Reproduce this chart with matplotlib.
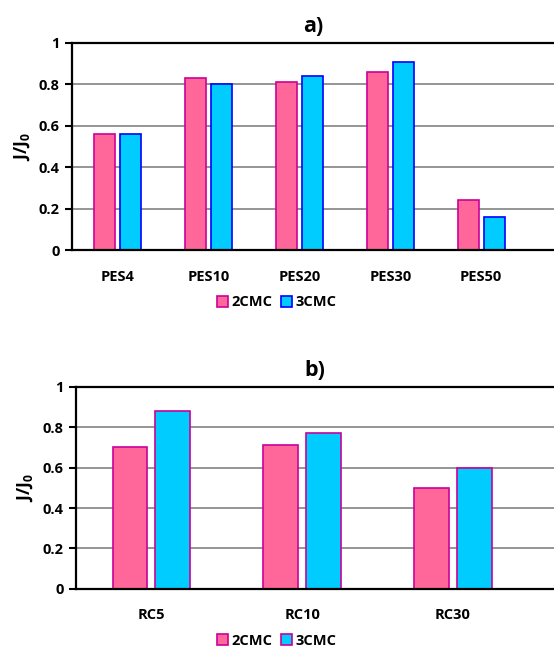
import numpy as np
import matplotlib
matplotlib.use("Agg")
import matplotlib.pyplot as plt

# panel a data
pes_labels = ["PES4", "PES10", "PES20", "PES30", "PES50"]
pes_2cmc = [0.56, 0.83, 0.81, 0.86, 0.24]
pes_3cmc = [0.56, 0.80, 0.84, 0.91, 0.16]

# panel b data
rc_labels = ["RC5", "RC10", "RC30"]
rc_2cmc = [0.70, 0.71, 0.50]
rc_3cmc = [0.88, 0.77, 0.60]

yticks = [0, 0.2, 0.4, 0.6, 0.8, 1]
ytick_labels = ["0", "0.2", "0.4", "0.6", "0.8", "1"]

plt.rcParams['font.family'] = ['Open Sans', 'DejaVu Sans']
plt.rcParams['font.weight'] = 'bold'
plt.rcParams['mathtext.fontset'] = 'custom'
plt.rcParams['mathtext.bf'] = 'Open Sans:bold'
plt.rcParams['mathtext.rm'] = 'Open Sans:bold'

pink = "#FF6699"
cyan = "#00CCFF"
magenta = "#CC0099"
blue = "#0000FF"

fig = plt.figure(figsize=(5.54, 6.5), dpi=100)


def draw_panel(ax, labels, v1, v2, edge2, title, xmax, leg_y):
    x = np.arange(len(labels))
    w = 0.23
    off = 0.142
    ax.set_axisbelow(True)
    ax.yaxis.grid(True, color="#8c8c8c", lw=1.3)
    b1 = ax.bar(x - off, v1, w, color=pink, edgecolor=magenta, lw=1.2, label="2CMC")
    b2 = ax.bar(x + off, v2, w, color=cyan, edgecolor=edge2, lw=1.2, label="3CMC")
    ax.set_xlim(-0.5, xmax)
    ax.set_ylim(0, 1)
    ax.set_yticks(yticks)
    ax.set_yticklabels(ytick_labels, fontsize=10.5, fontweight="bold")
    ax.set_xticks(x)
    ax.set_xticklabels(labels, fontsize=10.5, fontweight="bold")
    ax.tick_params(axis="x", length=0, pad=14)
    ax.tick_params(axis="y", length=5, width=1.5, direction="out", pad=4)
    for s in ["left", "bottom", "top"]:
        ax.spines[s].set_linewidth(1.6)
        ax.spines[s].set_color("black")
    ax.spines["right"].set_visible(False)
    ax.set_ylabel("J/J$_\\mathrm{0}$", fontsize=12.5, fontweight="bold", labelpad=5)
    ax.set_title(title, fontsize=15.5, fontweight="bold", pad=8)
    fig.legend(handles=[b1, b2], loc="center", bbox_to_anchor=(0.5, leg_y),
               ncol=2, frameon=False, fontsize=10.5, handlelength=0.75,
               handleheight=0.75, handletextpad=0.25, columnspacing=0.6)


ax1 = fig.add_axes([0.130, 0.615, 0.870, 0.319])
draw_panel(ax1, pes_labels, pes_2cmc, pes_3cmc, blue, "a)", 4.8, 0.535)

ax2 = fig.add_axes([0.137, 0.094, 0.863, 0.311])
draw_panel(ax2, rc_labels, rc_2cmc, rc_3cmc, magenta, "b)", 2.67, 0.014)

plt.savefig("out.png", dpi=100)
